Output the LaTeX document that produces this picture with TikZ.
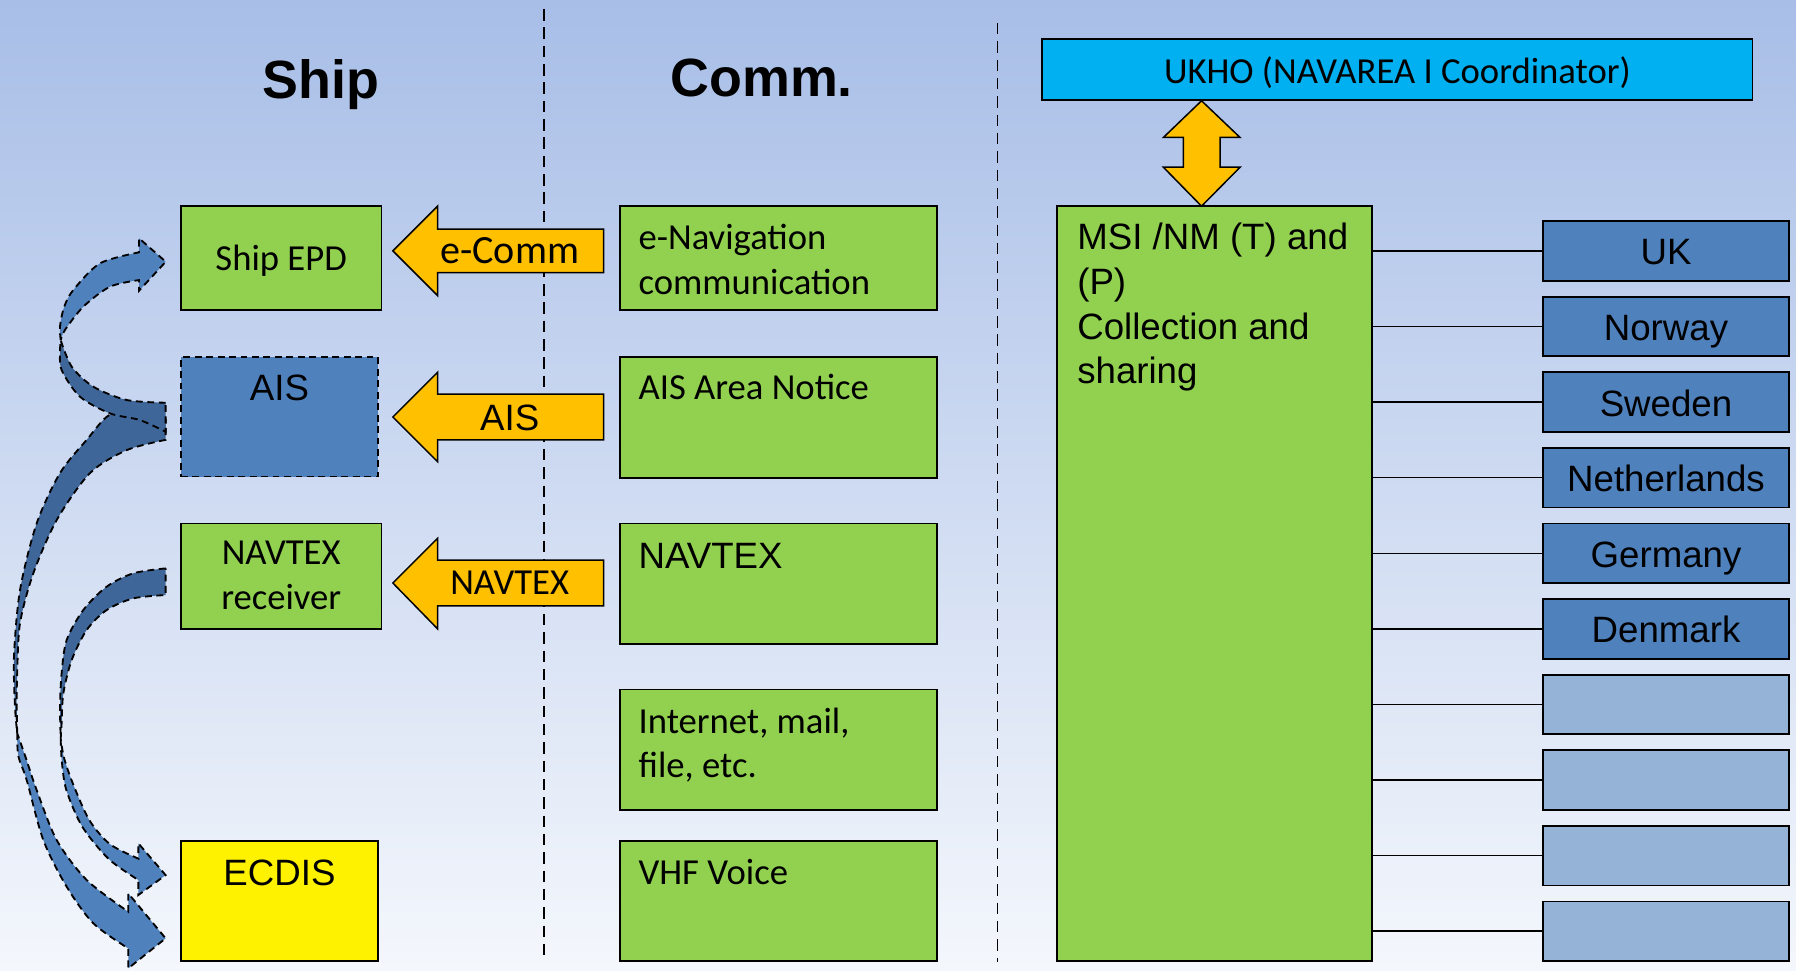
\documentclass[tikz,border=0pt]{standalone}
\usepackage{fontspec}
\setmainfont{Carlito}
\newfontfamily\arialf{Liberation Sans}
\usetikzlibrary{calc}
\definecolor{bgtop}{RGB}{168,190,231}
\definecolor{bgbot}{RGB}{244,247,252}
\definecolor{boxgreen}{RGB}{146,208,80}
\definecolor{boxblue}{RGB}{79,129,189}
\definecolor{boxlight}{RGB}{149,179,215}
\definecolor{arrorange}{RGB}{255,192,0}
\definecolor{ukhoblue}{RGB}{0,176,240}
\definecolor{darkarrow}{RGB}{62,102,152}
\newcommand\fs[1]{\fontsize{#1}{39}\selectfont}
\begin{document}
\begin{tikzpicture}[x=1pt,y=-1pt,
  box/.style={draw=black, line width=1.6pt, anchor=north west, inner sep=0pt, outer sep=0pt},
  sep/.style={draw=black, line width=1.4pt, dash pattern=on 10pt off 6pt},
  blockarrow/.style={draw=black, line width=1.3pt, fill=arrorange, line join=miter},
  dashedge/.style={draw=black, line width=1.6pt, dash pattern=on 6pt off 4pt},
  curvedark/.style={fill=darkarrow, dashedge},
  curvelight/.style={fill=boxblue, dashedge},
  link/.style={draw=black, line width=1.3pt},
  cal/.style={font=\fs{32}},
  ari/.style={font=\arialf\fs{32}},
  title/.style={font=\arialf\bfseries\fs{47}, anchor=base},
]
% background
\shade[top color=bgtop,bottom color=bgbot] (0,0) rectangle (1568,847);
\useasboundingbox (0,0) rectangle (1568,847);

% separators
\coordinate (s1a) at (475,8);  \coordinate (s1b) at (475,840);
\coordinate (s2a) at (871,20); \coordinate (s2b) at (871,840);
\draw[sep] (s1a) -- (s1b);
\draw[sep] (s2a) -- (s2b);

% titles
\node[title] (tship) at (280,86) {Ship};
\node[title] (tcomm) at (665,84) {Comm.};

% ship column
\node[box, fill=boxgreen, minimum width=175, minimum height=91, cal, text height=21.6pt, text depth=0pt] (epd) at (158,180) {Ship EPD};
\node[box, fill=boxblue, minimum width=172, minimum height=104, dashedge] (ais) at (158,312) {};
\node[ari, anchor=base] (aist) at ($(ais.north)+(0,38)$) {AIS};
\node[box, fill=boxgreen, minimum width=175, minimum height=92] (ntxr) at (158,457) {};
\node[cal, anchor=base, align=center] (ntxrt) at ($(ntxr.north)+(0,75)$) {NAVTEX\\receiver};
\node[box, fill=yellow, minimum width=172, minimum height=105] (ecdis) at (158,734) {};
\node[ari, anchor=base] (ecdist) at ($(ecdis.north)+(0,39)$) {ECDIS};

% comm column
\node[box, fill=boxgreen, minimum width=277, minimum height=91] (enav) at (541,180) {};
\node[cal, anchor=base west, align=left] (enavt) at ($(enav.north west)+(13,77)$) {e-Navigation\\communication};
\node[box, fill=boxgreen, minimum width=277, minimum height=105] (aisan) at (541,312) {};
\node[cal, anchor=base west] (aisant) at ($(aisan.north west)+(13,37)$) {AIS Area Notice};
\node[box, fill=boxgreen, minimum width=277, minimum height=105] (ntx) at (541,457) {};
\node[ari, anchor=base west] (ntxt) at ($(ntx.north west)+(13,39)$) {NAVTEX};
\node[box, fill=boxgreen, minimum width=277, minimum height=105] (inet) at (541,602) {};
\node[cal, anchor=base west, align=left] (inett) at ($(inet.north west)+(13,77)$) {Internet, mail,\\file, etc.};
\node[box, fill=boxgreen, minimum width=277, minimum height=105] (vhf) at (541,734) {};
\node[cal, anchor=base west] (vhft) at ($(vhf.north west)+(13,38)$) {VHF Voice};

% block arrows comm -> ship
\draw[blockarrow] (527,200) -- (382,200) -- (382,180) -- (343,219) -- (382,258) -- (382,238) -- (527,238) -- cycle;
\node[cal, font=\fs{35}, text height=22.5pt, text depth=0pt] (l1) at (445,219) {e-Comm};
\draw[blockarrow] (527,344) -- (382,344) -- (382,325) -- (343,364) -- (382,403) -- (382,384) -- (527,384) -- cycle;
\node[ari, text height=22.9pt, text depth=0pt] (l2) at (445,364) {AIS};
\draw[blockarrow] (527,489) -- (382,489) -- (382,470) -- (343,509) -- (382,549) -- (382,529) -- (527,529) -- cycle;
\node[cal, text height=20.6pt, text depth=0pt] (l3) at (445,509) {NAVTEX};

% UKHO and MSI
\node[box, fill=ukhoblue, minimum width=620, minimum height=53, cal, text height=24pt, text depth=0pt] (ukho) at (910,34) {UKHO (NAVAREA I Coordinator)};
\node[box, fill=boxgreen, minimum width=275, minimum height=659] (msi) at (923,180) {};
\node[ari, anchor=base west, align=left] (msit) at ($(msi.north west)+(14,155)$) {MSI /NM (T) and\\(P)\\Collection and\\sharing};
\draw[blockarrow] (1049,88) -- (1082.6,120) -- (1065.2,120) -- (1065.2,146) -- (1082.6,146) -- (1049,180) -- (1015.7,146) -- (1033.1,146) -- (1033.1,120) -- (1015.7,120) -- cycle;

% countries
\foreach \i/\lab/\col in {0/UK/boxblue,1/Norway/boxblue,2/Sweden/boxblue,3/Netherlands/boxblue,4/Germany/boxblue,5/Denmark/boxblue,6//boxlight,7//boxlight,8//boxlight,9//boxlight}{
  \node[box, fill=\col, minimum width=215, minimum height=52, ari, text height=24.5pt, text depth=0pt] (c\i) at (1347,193+66*\i) {\lab};
  \draw[link] (msi.east |- c\i.west) -- (c\i.west);
}

% curved arrows (ship internal)
% NAVTEX receiver -> ECDIS
\path[curvedark] plot[smooth] coordinates {(144.6,496.2) (116.4,500.5) (93.1,512.2) (72.7,532.6) (58.2,558.8) (53.8,587.8) (52.4,617) (53,645)}
  -- plot[smooth] coordinates {(53,645) (53.8,631.5) (55.3,605.3) (62.6,576.2) (75.7,550) (93.1,532.6) (116.4,522.4) (144.6,519.5)} -- cycle;
\path[curvelight] plot[smooth] coordinates {(53,645) (54,665) (58,690) (72,722) (95,750) (120.8,768.3)}
  -- (120.8,781.4) -- (144.6,764) -- (120.8,736.3) -- (120.8,749.6)
  -- plot[smooth] coordinates {(120.8,749.6) (96,737) (78,716) (64,685) (56,662) (53,645)} -- cycle;
% AIS -> ECDIS
\path[curvedark] plot[smooth] coordinates {(144.6,366) (120,362) (96,362) (75.7,384) (52.4,413) (32,457) (17.5,515) (12.2,573) (13.1,617) (15,640)}
  -- plot[smooth] coordinates {(15,640) (14.6,615) (15,588) (17.5,544) (29.1,500.5) (49.5,454) (78.6,413) (110.6,393) (144.6,384)} -- cycle;
\path[curvelight] plot[smooth] coordinates {(15,640) (16,660) (23.3,681) (37.8,733.4) (58.2,774.1) (81.5,806.1) (112,828)}
  -- (112,845.4) -- (144.6,819.2) -- (112,780) -- (112,796)
  -- plot[smooth] coordinates {(112,796) (75.7,768.3) (49.5,733.4) (32,689.7) (22,660) (15,640)} -- cycle;
% AIS -> Ship EPD
\path[curvedark] plot[smooth] coordinates {(144.6,351.6) (110.6,349.2) (81.5,337.6) (62.6,320.1) (53,297)}
  -- plot[smooth] coordinates {(53,297) (52.5,305) (53.8,323) (69.8,346.3) (96,360.9) (122,366.7) (144.6,376.9)} -- cycle;
\path[curvelight] plot[smooth] coordinates {(53,297) (52.4,285) (56,268) (64,253.2) (87.3,229.9) (121.4,220.3)}
  -- (121.4,208) -- (144.7,228.5) -- (121.4,253.8) -- (121.4,244.5)
  -- plot[smooth] coordinates {(121.4,244.5) (96,250.3) (72.7,267.8) (56.7,288.1) (53,297)} -- cycle;
\end{tikzpicture}
\end{document}
